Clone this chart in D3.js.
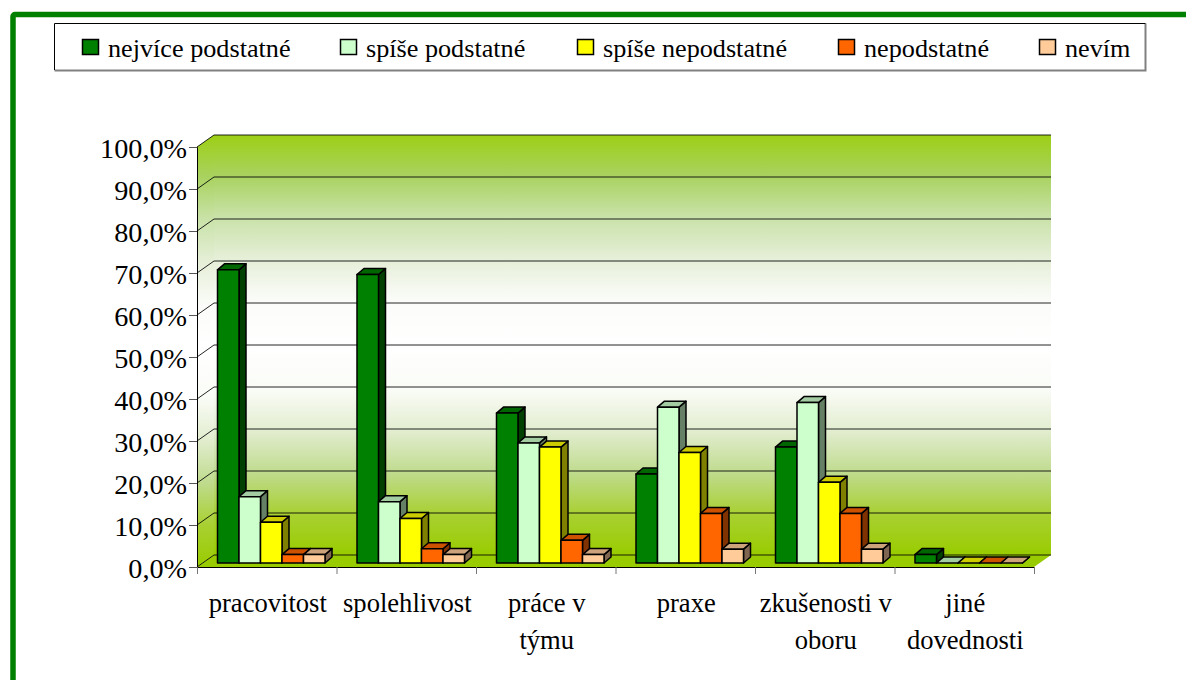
<!DOCTYPE html>
<html>
<head>
<meta charset="utf-8">
<script src="https://cdnjs.cloudflare.com/ajax/libs/d3/7.8.5/d3.min.js"></script>
<style>
html, body { margin: 0; padding: 0; background: #fff; overflow: hidden; }
text { font-family: "Liberation Serif", serif; fill: #000; }
</style>
</head>
<body>
<script>
const categories = [["pracovitost"], ["spolehlivost"], ["práce v", "týmu"], ["praxe"], ["zkušenosti v", "oboru"], ["jiné", "dovednosti"]];
const seriesNames = ["nejvíce podstatné", "spíše podstatné", "spíše nepodstatné", "nepodstatné", "nevím"];
const seriesColors = ["#008000", "#ccffcc", "#ffff00", "#ff6600", "#ffcc99"];
const topColors = ["#006600", "#a3cca3", "#cccc00", "#cc5200", "#cca37a"];
const sideColors = ["#004000", "#668066", "#808000", "#803300", "#806650"];
const nejvice = [69.8, 68.7, 35.7, 21.2, 27.6, 2];
const spisePodstatne = [15.8, 14.6, 28.6, 37.1, 38.2, 0];
const spiseNepodstatne = [9.7, 10.6, 27.6, 26.3, 19.2, 0];
const nepodstatne = [2, 3.4, 5.4, 11.8, 11.8, 0];
const nevim = [2, 2, 2, 3.3, 3.3, 0];
const yTicks = [0, 10, 20, 30, 40, 50, 60, 70, 80, 90, 100];
const legendSwatchX = [82, 340, 577, 838, 1039];
const wallOffsets = ["0%", "9.5%", "19.5%", "29.5%", "39.5%", "50%", "60.5%", "70.5%", "80.5%", "90.5%", "100%"];
const wallColors = ["#9dcf15", "#a8d25e", "#c9e2a8", "#e6efd8", "#fbfcf9", "#ffffff", "#fafcf7", "#e2edcf", "#bfdb8d", "#a8d030", "#99cc00"];

const values = [nejvice, spisePodstatne, spiseNepodstatne, nepodstatne, nevim];

const width = 1186, height = 680;
const depth = { x: 17, y: -12 };      // wall offset from the front plane
const barDepth = { x: 7, y: -6 };     // depth of a single bar
const barShift = { x: 0, y: -4 };     // bars stand a bit behind the front edge

const svg = d3.select("body").append("svg")
    .attr("width", width)
    .attr("height", height)
    .style("display", "block");

const x = d3.scaleBand().domain(d3.range(categories.length)).range([197, 1034]);
const y = d3.scaleLinear().domain([0, 100]).range([567, 147]);
const inner = d3.scaleBand().domain(d3.range(seriesNames.length)).range([20.5, 128]);

// wall gradient
const grad = svg.append("defs").append("linearGradient")
    .attr("id", "wall").attr("x1", 0).attr("y1", 0).attr("x2", 0).attr("y2", 1);
grad.selectAll("stop").data(wallOffsets).join("stop")
    .attr("offset", d => d)
    .attr("stop-color", (d, i) => wallColors[i]);

// outer frame
svg.append("rect")
    .attr("x", 13).attr("y", 14.5)
    .attr("width", 1300).attr("height", 900)
    .attr("rx", 2)
    .attr("fill", "#fff")
    .attr("stroke", "#008000")
    .attr("stroke-width", 5.5);

// legend
svg.append("path")
    .attr("d", "M54.5,70.5H1145.5V23.5")
    .attr("fill", "none")
    .attr("stroke", "#808080")
    .attr("stroke-width", 2);
svg.append("path")
    .attr("d", "M54.5,70V23.5H1145.5")
    .attr("fill", "none")
    .attr("stroke", "#000")
    .attr("stroke-width", 1);

const legend = svg.append("g").selectAll("g").data(seriesNames).join("g")
    .attr("transform", (d, i) => `translate(${legendSwatchX[i]},0)`);
legend.append("rect")
    .attr("x", 0.5).attr("y", 39.5)
    .attr("width", 16).attr("height", 15)
    .attr("fill", (d, i) => seriesColors[i])
    .attr("stroke", "#000")
    .attr("stroke-width", 1.5);
legend.append("text")
    .attr("x", 26).attr("y", 57)
    .attr("font-size", 26.2)
    .text(d => d);

// back wall, side wall and floor
const x0 = x.range()[0], x1 = x.range()[1];
const yTop = y(100), yBase = y(0);
const poly = pts => "M" + pts.map(p => p.join(",")).join("L") + "Z";

svg.append("path")
    .attr("d", poly([[x0 + depth.x, yTop + depth.y], [x1 + depth.x, yTop + depth.y], [x1 + depth.x, yBase + depth.y], [x0 + depth.x, yBase + depth.y]]))
    .attr("fill", "url(#wall)");
svg.append("path")
    .attr("d", poly([[x0, yTop], [x0 + depth.x, yTop + depth.y], [x0 + depth.x, yBase + depth.y], [x0, yBase]]))
    .attr("fill", "url(#wall)");
svg.append("path")
    .attr("d", poly([[x0, yBase], [x0 + depth.x, yBase + depth.y], [x1 + depth.x, yBase + depth.y], [x1, yBase]]))
    .attr("fill", "#99cc00");

// gridlines on the walls
svg.append("g").selectAll("path").data(yTicks).join("path")
    .attr("d", d => `M${x0},${y(d)}L${x0 + depth.x},${y(d) + depth.y}L${x1 + depth.x},${y(d) + depth.y}`)
    .attr("fill", "none")
    .attr("stroke", "#000")
    .attr("stroke-opacity", 0.85)
    .attr("stroke-width", 1);

// axes
const yAxis = svg.append("g")
    .attr("transform", `translate(${x0},0)`)
    .call(d3.axisLeft(y).tickValues(yTicks).tickSize(8).tickPadding(2).tickFormat(d => d3.format(".1f")(d).replace(".", ",") + "%"));
yAxis.selectAll("text").attr("font-size", 28.2).attr("font-family", "Liberation Serif").attr("dy", "0.38em");
yAxis.selectAll("line").attr("stroke", "#555");
yAxis.select(".domain").attr("stroke", "#000");

svg.append("line")
    .attr("x1", x0).attr("x2", x1)
    .attr("y1", yBase + 0.5).attr("y2", yBase + 0.5)
    .attr("stroke", "#000");

svg.append("g").selectAll("line").data(d3.range(categories.length + 1)).join("line")
    .attr("x1", d => x0 + d * x.step() + 0.5)
    .attr("x2", d => x0 + d * x.step() + 0.5)
    .attr("y1", yBase).attr("y2", yBase + 7)
    .attr("stroke", "#777");

const catLabels = svg.append("g").selectAll("text").data(categories).join("text")
    .attr("text-anchor", "middle")
    .attr("font-size", 26.6)
    .attr("transform", (d, i) => `translate(${x(i) + x.bandwidth() / 2 + 1},612)`);
catLabels.selectAll("tspan").data(d => d).join("tspan")
    .attr("x", 0)
    .attr("y", (d, i) => i * 36.7)
    .text(d => d);

// bars
const barGroups = svg.append("g").selectAll("g").data(categories).join("g")
    .attr("transform", (d, i) => `translate(${x(i)},0)`);

barGroups.each(function (d, c) {
    const g = d3.select(this);
    seriesNames.forEach((name, s) => {
        const v = values[s][c];
        const left = inner(s) + barShift.x;
        const right = left + inner.bandwidth();
        const base = y(0) + barShift.y;
        const top = y(v) + barShift.y;
        const bar = g.append("g")
            .attr("stroke", "#000")
            .attr("stroke-width", 1.5)
            .attr("stroke-linejoin", "round");
        bar.append("path")
            .attr("d", poly([[right, top], [right + barDepth.x, top + barDepth.y], [right + barDepth.x, base + barDepth.y], [right, base]]))
            .attr("fill", sideColors[s]);
        bar.append("path")
            .attr("d", poly([[left, top], [left + barDepth.x, top + barDepth.y], [right + barDepth.x, top + barDepth.y], [right, top]]))
            .attr("fill", topColors[s]);
        if (v > 0) {
            bar.append("rect")
                .attr("x", left).attr("y", top)
                .attr("width", inner.bandwidth()).attr("height", base - top)
                .attr("fill", seriesColors[s]);
        }
    });
});
</script>
</body>
</html>
